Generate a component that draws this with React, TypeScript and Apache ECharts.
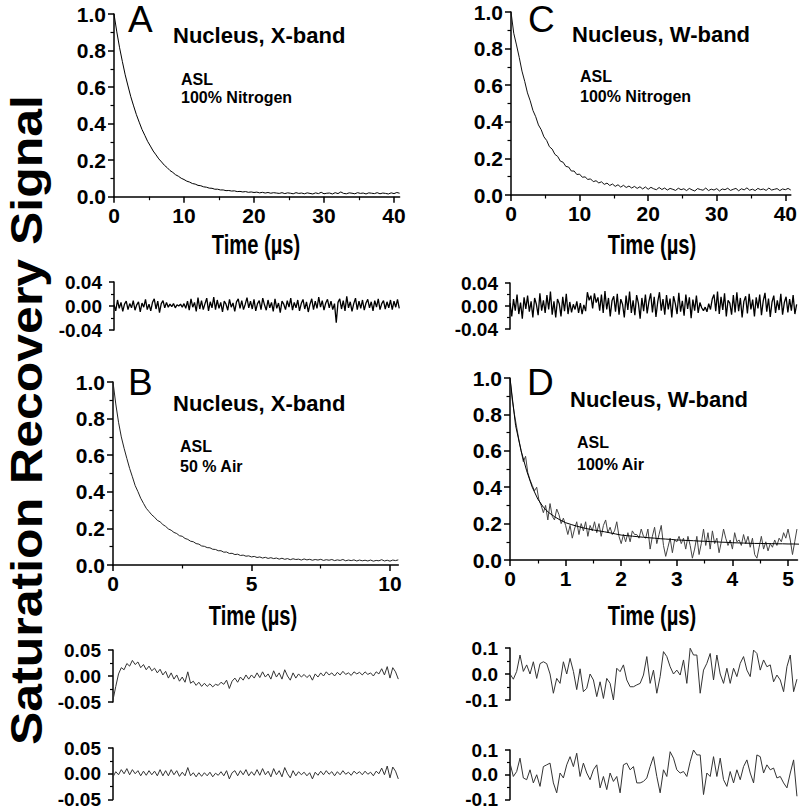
import React, { useEffect, useRef } from "react";
import * as echarts from "echarts";

const FONT = '"Liberation Sans", Arial, Helvetica, sans-serif';

// ---------- Panel A: Nucleus, X-band, 100% Nitrogen ----------
const aStep = 0.4;
const aSignal = [
  1.0, 0.902, 0.815, 0.739, 0.667, 0.606, 0.547, 0.497, 0.449, 0.408,
  0.368, 0.336, 0.303, 0.277, 0.25, 0.229, 0.207, 0.19, 0.172, 0.159,
  0.143, 0.133, 0.12, 0.112, 0.101, 0.094, 0.085, 0.08, 0.072, 0.069,
  0.062, 0.06, 0.054, 0.052, 0.047, 0.046, 0.041, 0.041, 0.037, 0.037,
  0.033, 0.034, 0.031, 0.032, 0.028, 0.029, 0.026, 0.028, 0.024, 0.026,
  0.023, 0.025, 0.021, 0.024, 0.02, 0.023, 0.019, 0.022, 0.02, 0.018,
  0.022, 0.017, 0.021, 0.019, 0.016, 0.022, 0.018, 0.02, 0.016, 0.021,
  0.018, 0.015, 0.021, 0.017, 0.024, 0.016, 0.019, 0.02, 0.015, 0.022,
  0.017, 0.026, 0.018, 0.016, 0.021, 0.019, 0.016, 0.022, 0.018, 0.02,
  0.015, 0.021, 0.019, 0.017, 0.022, 0.016, 0.02, 0.018, 0.015, 0.021,
  0.017, 0.023, 0.019,
];
const aResidStep = 0.25;
const aResid = [
  0.002, -0.008, 0.01, -0.004, 0.006, -0.009, 0.003, 0.008, -0.006, 0.004,
  -0.003, 0.009, -0.007, 0.002, 0.007, -0.01, 0.005, -0.002, 0.011, -0.006,
  0.003, -0.008, 0.006, 0.012, -0.005, 0.008, -0.011, 0.004, 0.009, -0.003,
  0.006, -0.002, 0.003, -0.001, 0.004, -0.003, 0.002, 0.0, 0.003, -0.002,
  0.004, -0.004, 0.008, -0.007, 0.012, -0.002, 0.006, -0.009, 0.014, -0.005,
  0.009, -0.006, 0.004, 0.013, -0.008, 0.007, -0.003, 0.015, -0.006, 0.01,
  -0.004, 0.006, -0.01, 0.008, 0.003, -0.007, 0.011, -0.002, 0.005, -0.009,
  0.007, 0.012, -0.004, 0.009, -0.006, 0.003, 0.014, -0.003, 0.008, -0.005,
  0.011, -0.008, 0.004, 0.009, -0.006, 0.013, 0.002, -0.007, 0.01, -0.003,
  0.006, -0.009, 0.012, -0.004, 0.005, -0.011, 0.008, 0.003, -0.006, 0.009,
  -0.002, 0.013, -0.007, 0.006, -0.003, 0.01, -0.008, 0.004, 0.011, -0.005,
  0.007, -0.01, 0.003, 0.012, -0.006, 0.008, -0.004, 0.015, -0.002, 0.009,
  -0.007, 0.005, 0.011, -0.003, 0.008, -0.006, 0.004, -0.028, 0.006, 0.012,
  -0.005, 0.009, -0.008, 0.016, -0.003, 0.007, -0.009, 0.004, 0.013, -0.006,
  0.008, -0.004, 0.01, -0.007, 0.005, 0.011, -0.003, 0.007, -0.008, 0.009,
  -0.002, 0.012, -0.006, 0.004, 0.009, -0.005, 0.007, -0.003, 0.01, -0.006,
  0.008, -0.002, 0.011, -0.004,
];

// ---------- Panel C: Nucleus, W-band, 100% Nitrogen ----------
const cStep = 0.4;
const cSignal = [
  1.0, 0.884, 0.82, 0.752, 0.677, 0.621, 0.558, 0.515, 0.462, 0.428,
  0.383, 0.357, 0.318, 0.298, 0.264, 0.251, 0.222, 0.211, 0.185, 0.179,
  0.156, 0.153, 0.131, 0.131, 0.112, 0.114, 0.097, 0.099, 0.085, 0.088,
  0.073, 0.078, 0.066, 0.072, 0.058, 0.065, 0.052, 0.06, 0.047, 0.056,
  0.043, 0.053, 0.041, 0.049, 0.038, 0.047, 0.036, 0.045, 0.033, 0.044,
  0.031, 0.042, 0.034, 0.029, 0.041, 0.03, 0.038, 0.027, 0.036, 0.031,
  0.025, 0.037, 0.029, 0.034, 0.024, 0.036, 0.028, 0.022, 0.035, 0.03,
  0.026, 0.038, 0.024, 0.032, 0.027, 0.035, 0.022, 0.033, 0.029, 0.037,
  0.025, 0.031, 0.036, 0.023, 0.034, 0.028, 0.039, 0.026, 0.032, 0.024,
  0.036, 0.029, 0.033, 0.025, 0.038, 0.027, 0.031, 0.035, 0.024, 0.033,
  0.029, 0.036, 0.027,
];
const cResidStep = 0.25;
const cResid = [
  0.005, -0.018, 0.012, -0.008, 0.02, -0.014, 0.006, -0.022, 0.015, -0.005,
  0.018, -0.01, 0.008, -0.02, 0.014, 0.003, -0.016, 0.022, -0.008, 0.01,
  -0.012, 0.019, -0.006, 0.025, -0.015, 0.008, -0.02, 0.012, 0.004, -0.018,
  0.016, -0.009, 0.021, -0.014, 0.007, -0.011, 0.003, -0.006, 0.008, -0.012,
  0.005, -0.014, 0.002, -0.009, 0.024, 0.01, 0.018, -0.004, 0.022, 0.006,
  0.015, -0.008, 0.02, -0.012, 0.026, -0.006, 0.014, -0.018, 0.009, 0.017,
  -0.01, 0.021, -0.015, 0.012, 0.003, -0.02, 0.018, -0.007, 0.025, -0.012,
  0.01, -0.016, 0.019, 0.005, -0.022, 0.014, -0.009, 0.02, -0.013, 0.008,
  0.022, -0.011, 0.016, -0.019, 0.007, 0.024, -0.008, 0.012, -0.015, 0.019,
  -0.006, 0.013, -0.02, 0.017, 0.004, -0.014, 0.023, -0.01, 0.009, -0.017,
  0.02, -0.005, 0.015, -0.021, 0.011, -0.008, 0.018, -0.012, 0.006, -0.003,
  -0.008, -0.002, -0.01, 0.004, -0.006, 0.012, 0.02, -0.009, 0.025, -0.014,
  0.016, -0.007, 0.022, -0.018, 0.01, 0.005, -0.015, 0.019, -0.011, 0.024,
  -0.009, 0.014, -0.02, 0.008, 0.017, -0.013, 0.021, -0.006, 0.011, -0.018,
  0.015, -0.004, 0.02, -0.016, 0.009, 0.023, -0.01, 0.013, -0.019, 0.007,
  0.018, -0.012, 0.01, -0.007, 0.021, -0.015, 0.006, 0.016, -0.011, 0.012,
  -0.008, 0.019, -0.014, 0.003,
];

// ---------- Panel B: Nucleus, X-band, 50 % Air ----------
const bStep = 0.1;
const bSignal = [
  1.0, 0.88, 0.78, 0.7, 0.638, 0.582, 0.528, 0.482, 0.434, 0.401,
  0.365, 0.337, 0.31, 0.292, 0.274, 0.261, 0.244, 0.236, 0.221, 0.211,
  0.197, 0.19, 0.178, 0.172, 0.16, 0.157, 0.145, 0.14, 0.13, 0.127,
  0.117, 0.114, 0.104, 0.102, 0.095, 0.094, 0.086, 0.085, 0.078, 0.078,
  0.07, 0.071, 0.063, 0.064, 0.057, 0.059, 0.052, 0.054, 0.048, 0.05,
  0.044, 0.047, 0.041, 0.044, 0.038, 0.042, 0.036, 0.04, 0.035, 0.038,
  0.032, 0.037, 0.031, 0.035, 0.029, 0.034, 0.03, 0.032, 0.027, 0.033,
  0.028, 0.031, 0.026, 0.03, 0.027, 0.031, 0.025, 0.029, 0.026, 0.03,
  0.024, 0.028, 0.025, 0.03, 0.023, 0.027, 0.024, 0.028, 0.022, 0.027,
  0.023, 0.026, 0.022, 0.027, 0.021, 0.025, 0.023, 0.029, 0.022, 0.026,
  0.021, 0.027, 0.024, 0.028,
];
const bResid1 = [
  -0.046, -0.02, 0.004, 0.016, 0.012, 0.024, 0.019, 0.03, 0.022, 0.027,
  0.016, 0.022, 0.012, 0.019, 0.01, 0.015, 0.006, 0.013, 0.002, 0.009,
  -0.004, 0.006, -0.006, 0.002, -0.01, -0.002, -0.012, 0.008, -0.014, -0.01,
  -0.018, -0.012, -0.02, -0.014, -0.02, -0.015, -0.021, -0.016, -0.018, -0.012,
  -0.016, -0.008, -0.024, -0.01, -0.004, -0.012, -0.002, -0.008, 0.002, -0.006,
  0.002, -0.004, 0.006, -0.003, 0.008, -0.002, 0.004, -0.006, 0.01, -0.002,
  0.006, -0.006, 0.012, 0.0, -0.008, 0.006, -0.004, 0.004, -0.002, 0.003,
  -0.003, 0.002, -0.008, 0.004, -0.002, 0.006, 0.0, 0.008, 0.002, 0.006,
  0.0, 0.007, 0.002, 0.009, 0.003, 0.006, 0.001, 0.008, 0.004, 0.007,
  0.002, 0.008, 0.003, 0.006, 0.0, 0.008, 0.004, 0.014, 0.002, 0.018,
  -0.004, 0.016, 0.008, -0.006,
];
const bResid2 = [
  -0.006, 0.004, -0.002, 0.008, 0.0, 0.01, -0.002, 0.008, 0.0, 0.006,
  -0.004, 0.005, -0.003, 0.006, -0.002, 0.005, -0.004, 0.008, -0.004, 0.006,
  -0.004, 0.008, -0.002, 0.006, -0.005, 0.003, -0.004, 0.012, -0.004, 0.002,
  -0.006, 0.002, -0.005, 0.002, -0.004, 0.003, -0.006, 0.001, -0.003, 0.004,
  -0.004, 0.006, -0.01, 0.002, 0.006, -0.004, 0.006, -0.002, 0.008, -0.004,
  0.004, -0.003, 0.008, -0.003, 0.01, -0.002, 0.005, -0.006, 0.01, -0.002,
  0.006, -0.006, 0.012, 0.0, -0.008, 0.006, -0.004, 0.004, -0.002, 0.003,
  -0.004, 0.002, -0.01, 0.003, -0.003, 0.005, -0.002, 0.006, -0.001, 0.004,
  -0.004, 0.004, -0.002, 0.006, -0.001, 0.003, -0.003, 0.005, 0.0, 0.004,
  -0.002, 0.005, -0.001, 0.003, -0.004, 0.005, 0.0, 0.011, -0.002, 0.015,
  -0.008, 0.013, 0.005, -0.01,
];

// ---------- Panel D: Nucleus, W-band, 100% Air ----------
const dStep = 0.04;
const dSignal = [
  1.0, 0.88, 0.8, 0.73, 0.66, 0.6, 0.54, 0.57, 0.48, 0.44,
  0.41, 0.38, 0.4, 0.33, 0.3, 0.26, 0.3, 0.22, 0.31, 0.24,
  0.22, 0.28, 0.25, 0.2, 0.23, 0.19, 0.14, 0.19, 0.12, 0.17,
  0.21, 0.14, 0.2, 0.16, 0.21, 0.13, 0.19, 0.16, 0.21, 0.15,
  0.2, 0.13, 0.19, 0.22, 0.15, 0.18, 0.14, 0.16, 0.21, 0.13,
  0.09, 0.14, 0.1, 0.15, 0.1, 0.16, 0.14, 0.14, 0.12, 0.17,
  0.13, 0.12, 0.17, 0.06, 0.13, 0.18, 0.09, 0.14, 0.19, 0.08,
  0.02, 0.07, 0.12, 0.04, 0.11, 0.1, 0.13, 0.09, 0.12, 0.06,
  0.13, 0.08, 0.01, 0.06, 0.13, 0.03, 0.09, 0.17, 0.08, 0.15,
  0.06, 0.16, 0.09, 0.12, 0.04, 0.1, 0.17, 0.12, 0.08, 0.11,
  0.06, 0.15, 0.1, 0.11, 0.08, 0.14, 0.09, 0.13, 0.07, 0.12,
  0.03, 0.01, 0.07, 0.13, 0.06, 0.1, 0.05, 0.09, 0.07, 0.11,
  0.08, 0.12, 0.1, 0.15, 0.12, 0.17, 0.11, 0.03, 0.1, 0.17,
];
const dFitStep = 0.1;
const dFit = [
  1.0, 0.74, 0.6, 0.49, 0.4, 0.335, 0.29, 0.26, 0.238, 0.22,
  0.205, 0.195, 0.186, 0.178, 0.171, 0.165, 0.16, 0.155, 0.149, 0.143,
  0.137, 0.134, 0.131, 0.128, 0.125, 0.122, 0.12, 0.117, 0.115, 0.113,
  0.11, 0.109, 0.107, 0.106, 0.104, 0.103, 0.101, 0.1, 0.098, 0.097,
  0.095, 0.094, 0.093, 0.092, 0.091, 0.091, 0.09, 0.09, 0.089, 0.089,
  0.088, 0.088, 0.087,
];
const dResidStep = 0.06;
const dResid1 = [
  0.0, -0.02, 0.01, 0.073, 0.01, 0.035, 0.0, 0.047, -0.017, 0.04,
  0.047, 0.04, 0.0, -0.074, -0.017, -0.036, 0.047, 0.0, 0.06, 0.01,
  -0.06, 0.02, -0.068, -0.055, 0.0, -0.023, -0.087, -0.03, -0.094, -0.017,
  -0.036, -0.1, 0.022, 0.009, 0.035, -0.023, -0.049, -0.049, -0.042, -0.036,
  -0.004, 0.067, -0.036, 0.015, -0.074, -0.01, 0.086, 0.067, 0.028, 0.0,
  0.015, -0.004, 0.054, -0.036, 0.099, 0.073, 0.073, -0.074, 0.015, 0.041,
  0.079, -0.023, 0.073, 0.0, -0.036, 0.022, -0.036, 0.022, -0.01, 0.041,
  0.067, 0.015, -0.01, 0.092, 0.079, 0.015, 0.054, 0.028, 0.035, -0.03,
  -0.004, -0.023, -0.068, 0.028, 0.073, -0.068, -0.02,
];
const dResid2 = [
  0.047, -0.007, 0.013, 0.067, -0.013, -0.02, 0.02, -0.033, 0.0, -0.047,
  0.033, 0.04, 0.047, -0.033, -0.073, 0.007, -0.013, 0.04, 0.073, 0.033,
  0.087, -0.007, 0.047, 0.007, -0.02, 0.02, 0.04, -0.053, -0.007, -0.06,
  0.007, -0.027, -0.007, -0.073, 0.04, 0.047, 0.02, 0.033, -0.033, -0.033,
  -0.027, -0.013, 0.033, 0.073, -0.007, -0.073, 0.02, -0.007, 0.093, 0.067,
  0.02, 0.007, 0.013, -0.007, 0.053, 0.1, 0.08, 0.08, -0.08, 0.007,
  -0.007, 0.073, -0.007, 0.067, -0.02, -0.047, 0.013, -0.033, 0.02, -0.02,
  0.033, 0.06, 0.007, -0.033, 0.08, 0.073, 0.007, 0.04, 0.02, 0.027,
  -0.013, -0.007, -0.033, -0.053, 0.007, 0.06, -0.087,
];

// ---------- Axis ticks ----------
const xMajorA = [0, 10, 20, 30, 40];
const xMinorA = [5, 15, 25, 35];
const xMajorB = [0, 5, 10];
const xMinorB = [2.5, 7.5];
const xMajorD = [0, 1, 2, 3, 4, 5];
const xMinorD = [0.5, 1.5, 2.5, 3.5, 4.5];

const pairs = (vals: number[], step: number) =>
  vals.map((v, i) => [Number((i * step).toFixed(4)), v]);

function buildOption() {
  const grids: any[] = [];
  const xAxes: any[] = [];
  const yAxes: any[] = [];
  const series: any[] = [];

  const axisLineStyle = { color: "#000", width: 1.5 };
  const labelBase = { fontFamily: FONT, fontWeight: "bold", color: "#000" };

  function mainPanel(
    rect: { left: number; top: number; width: number; height: number },
    xmax: number,
    majors: number[],
    minors: number[],
    majorStep: number,
    lines: { data: number[][]; color: string; width: number }[]
  ) {
    grids.push({ ...rect, containLabel: false });
    const gi = grids.length - 1;
    xAxes.push({
      gridIndex: gi,
      type: "value",
      position: "bottom",
      min: 0,
      max: xmax,
      interval: majorStep,
      axisLine: { show: true, onZero: false, lineStyle: axisLineStyle },
      axisTick: { show: true, inside: false, length: 6, customValues: majors, lineStyle: { color: "#000", width: 1.5 } },
      axisLabel: { ...labelBase, fontSize: 21, margin: 8, customValues: majors, formatter: (v: number) => String(v) },
      splitLine: { show: false },
    });
    const xi = xAxes.length - 1;
    xAxes.push({
      gridIndex: gi,
      type: "value",
      position: "bottom",
      min: 0,
      max: xmax,
      interval: majorStep,
      axisLine: { show: false, onZero: false },
      axisTick: { show: true, inside: false, length: 3.5, customValues: minors, lineStyle: { color: "#000", width: 1.2 } },
      axisLabel: { show: false },
      splitLine: { show: false },
    });
    yAxes.push({
      gridIndex: gi,
      type: "value",
      min: 0,
      max: 1,
      interval: 0.2,
      axisLine: { show: true, onZero: false, lineStyle: axisLineStyle },
      axisTick: { show: true, inside: false, length: 6, lineStyle: { color: "#000", width: 1.5 } },
      minorTick: { show: true, splitNumber: 2, length: 3.5, lineStyle: { color: "#000", width: 1.2 } },
      axisLabel: { ...labelBase, fontSize: 21, margin: 8, formatter: (v: number) => v.toFixed(1) },
      splitLine: { show: false },
      minorSplitLine: { show: false },
    });
    const yi = yAxes.length - 1;
    lines.forEach((l) =>
      series.push({
        type: "line",
        xAxisIndex: xi,
        yAxisIndex: yi,
        data: l.data,
        showSymbol: false,
        symbol: "none",
        lineStyle: { color: l.color, width: l.width },
        silent: true,
      })
    );
  }

  function residPanel(
    rect: { left: number; top: number; width: number; height: number },
    xmax: number,
    ylim: number,
    digits: number,
    data: number[][],
    color: string,
    width: number
  ) {
    grids.push({ ...rect, containLabel: false });
    const gi = grids.length - 1;
    xAxes.push({ gridIndex: gi, type: "value", min: 0, max: xmax, show: false, splitLine: { show: false } });
    const xi = xAxes.length - 1;
    yAxes.push({
      gridIndex: gi,
      type: "value",
      min: -ylim,
      max: ylim,
      interval: ylim,
      axisLine: { show: true, onZero: false, lineStyle: axisLineStyle },
      axisTick: { show: true, inside: false, length: 5, lineStyle: { color: "#000", width: 1.5 } },
      minorTick: { show: true, splitNumber: 2, length: 3, lineStyle: { color: "#000", width: 1.2 } },
      axisLabel: { ...labelBase, fontSize: 19, margin: 12, formatter: (v: number) => (Math.abs(v) < 1e-9 ? 0 : v).toFixed(digits) },
      splitLine: { show: false },
      minorSplitLine: { show: false },
    });
    const yi = yAxes.length - 1;
    series.push({
      type: "line",
      xAxisIndex: xi,
      yAxisIndex: yi,
      data,
      showSymbol: false,
      symbol: "none",
      lineStyle: { color, width },
      silent: true,
    });
  }

  // A
  mainPanel({ left: 114, top: 14, width: 285.6, height: 182.7 }, 40.8, xMajorA, xMinorA, 10, [
    { data: pairs(aSignal, aStep), color: "#000", width: 1 },
  ]);
  residPanel({ left: 114, top: 282, width: 285.6, height: 48 }, 40.8, 0.04, 2, pairs(aResid, aResidStep), "#000", 1.3);
  // C
  mainPanel({ left: 511, top: 12, width: 287, height: 183 }, 40.8, xMajorA, xMinorA, 10, [
    { data: pairs(cSignal, cStep), color: "#111", width: 1 },
  ]);
  residPanel({ left: 510, top: 283, width: 287, height: 46 }, 40.8, 0.04, 2, pairs(cResid, cResidStep), "#000", 1.3);
  // B
  mainPanel({ left: 113, top: 382, width: 285.3, height: 183 }, 10.3, xMajorB, xMinorB, 5, [
    { data: pairs(bSignal, bStep), color: "#222", width: 1 },
  ]);
  residPanel({ left: 113, top: 650, width: 285.3, height: 52 }, 10.3, 0.05, 2, pairs(bResid1, bStep), "#333", 1);
  residPanel({ left: 113, top: 748, width: 285.3, height: 52 }, 10.3, 0.05, 2, pairs(bResid2, bStep), "#333", 1);
  // D
  mainPanel({ left: 510, top: 378, width: 287.5, height: 182 }, 5.17, xMajorD, xMinorD, 1, [
    { data: pairs(dSignal, dStep), color: "#444", width: 1 },
    { data: pairs(dFit, dFitStep), color: "#000", width: 1 },
  ]);
  residPanel({ left: 510, top: 648, width: 287.5, height: 52 }, 5.17, 0.1, 1, pairs(dResid1, dResidStep), "#333", 1);
  residPanel({ left: 510, top: 750, width: 287.5, height: 50 }, 5.17, 0.1, 1, pairs(dResid2, dResidStep), "#333", 1);

  const txt = (text: string, x: number, y: number, size: number, weight: string, extra: any = {}) => ({
    type: "text",
    x,
    y,
    silent: true,
    ...extra,
    style: {
      text,
      fill: "#000",
      font: `${weight} ${size}px ${FONT}`,
      textAlign: extra.align || "left",
      textVerticalAlign: "middle",
    },
  });

  const graphic: any[] = [
    txt("Saturation Recovery Signal", 26, 420, 50, "bold", { rotation: Math.PI / 2, scaleY: 0.9, align: "center" }),
    // A
    txt("A", 128, 19.5, 37, "normal"),
    txt("Nucleus, X-band", 173, 35, 22, "bold"),
    txt("ASL", 181, 79.4, 16, "bold"),
    txt("100% Nitrogen", 181, 97.4, 16, "bold"),
    txt("Time (µs)", 256, 244.2, 28, "bold", { scaleX: 0.72, align: "center" }),
    // C
    txt("C", 528, 19.5, 37, "normal"),
    txt("Nucleus, W-band", 572, 34, 22, "bold"),
    txt("ASL", 580, 76.4, 16, "bold"),
    txt("100% Nitrogen", 580, 96.4, 16, "bold"),
    txt("Time (µs)", 652, 244.2, 28, "bold", { scaleX: 0.72, align: "center" }),
    // B
    txt("B", 128, 382.7, 37, "normal"),
    txt("Nucleus, X-band", 173, 403.3, 22, "bold"),
    txt("ASL", 180, 446.4, 16, "bold"),
    txt("50 % Air", 180, 466.4, 16, "bold"),
    txt("Time (µs)", 253, 615.2, 28, "bold", { scaleX: 0.72, align: "center" }),
    // D
    txt("D", 527, 382.7, 37, "normal"),
    txt("Nucleus, W-band", 570, 399.3, 22, "bold"),
    txt("ASL", 577, 442.4, 16, "bold"),
    txt("100% Air", 577, 464.4, 16, "bold"),
    txt("Time (µs)", 652, 615.2, 28, "bold", { scaleX: 0.72, align: "center" }),
  ];

  return {
    animation: false,
    backgroundColor: "#fff",
    grid: grids,
    xAxis: xAxes,
    yAxis: yAxes,
    series,
    graphic,
  };
}

export default function App() {
  const ref = useRef<HTMLDivElement>(null);
  useEffect(() => {
    if (!ref.current) return;
    const chart = echarts.init(ref.current, undefined, { renderer: "svg" });
    chart.setOption(buildOption() as any);
    return () => chart.dispose();
  }, []);
  return (
    <div
      ref={ref}
      style={{ position: "fixed", left: 0, top: 0, width: 800, height: 809, background: "#fff" }}
    />
  );
}
